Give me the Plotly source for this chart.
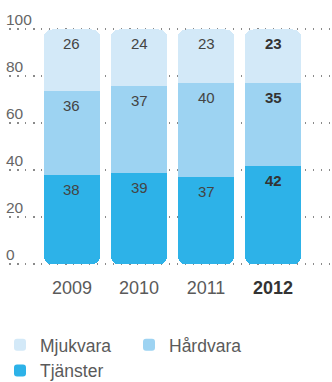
import plotly.graph_objects as go

# Andel av omsättningen per år (procent)
years = ["2009", "2010", "2011", "2012"]
tjanster = [38, 39, 37, 42]
hardvara = [36, 37, 40, 35]
mjukvara = [26, 24, 23, 23]
y_ticks = [0, 20, 40, 60, 80, 100]

col_mjuk = "#d3e9f8"
col_hard = "#9dd3f2"
col_tj = "#2db2e8"
font_family = "Liberation Sans, Arial, sans-serif"
label_col = "#444444"
bold_col = "#333333"
axis_col = "#5a5a5a"

bar_w = 0.84
y_range = [-2, 110]

fig = go.Figure()

# Upper stack on the main axis: a transparent spacer for Tjänster,
# then Hårdvara and Mjukvara; the stack's top end gets the rounded corners.
fig.add_trace(go.Bar(
    x=years, y=tjanster, width=bar_w, showlegend=False, hoverinfo="skip",
    marker=dict(color="rgba(0,0,0,0)", line=dict(width=0)),
))
fig.add_trace(go.Bar(
    x=years, y=hardvara, width=bar_w, name="Hårdvara", legendrank=2,
    marker=dict(color=col_hard, line=dict(width=0)),
    hovertemplate="%{x}: %{y}<extra>Hårdvara</extra>",
))
fig.add_trace(go.Bar(
    x=years, y=mjukvara, width=bar_w, name="Mjukvara", legendrank=1,
    marker=dict(color=col_mjuk, line=dict(width=0)),
    hovertemplate="%{x}: %{y}<extra>Mjukvara</extra>",
))

# Tjänster on a reversed twin axis, so the rounded end of its stack sits at zero
upper = [h + m for h, m in zip(hardvara, mjukvara)]
fig.add_trace(go.Bar(
    x=years, y=upper, width=bar_w, yaxis="y2", showlegend=False, hoverinfo="skip",
    marker=dict(color="rgba(0,0,0,0)", line=dict(width=0)),
))
fig.add_trace(go.Bar(
    x=years, y=tjanster, width=bar_w, yaxis="y2", name="Tjänster", legendrank=3,
    marker=dict(color=col_tj, line=dict(width=0)),
    hovertemplate="%{x}: %{y}<extra>Tjänster</extra>",
))

# Value labels near the top of each segment (category index as x position)
annotations = []
last = len(years) - 1
for i in range(len(years)):
    tops = [
        (tjanster[i], tjanster[i]),
        (tjanster[i] + hardvara[i], hardvara[i]),
        (tjanster[i] + hardvara[i] + mjukvara[i], mjukvara[i]),
    ]
    for top, val in tops:
        txt = f"<b>{val}</b>" if i == last else str(val)
        annotations.append(dict(
            x=i, y=top, xref="x", yref="y", text=txt, showarrow=False,
            yanchor="top", yshift=-4,
            font=dict(family=font_family, size=15,
                      color=bold_col if i == last else label_col),
        ))

tick_text = [
    f"<b><span style='color:{bold_col}'>{y}</span></b>" if i == last else y
    for i, y in enumerate(years)
]

fig.update_layout(
    width=332, height=382,
    margin=dict(l=9, r=2, t=6, b=113),
    paper_bgcolor="white", plot_bgcolor="white",
    barmode="stack",
    barcornerradius=8,
    showlegend=True,
    font=dict(family=font_family, color=axis_col),
    annotations=annotations,
    legend=dict(
        orientation="h", xref="container", yref="container",
        x=-0.021, xanchor="left", y=0.144, yanchor="top",
        font=dict(family=font_family, size=17.5, color=axis_col),
        entrywidth=84, entrywidthmode="pixels",
        traceorder="normal", bgcolor="rgba(0,0,0,0)",
    ),
    xaxis=dict(
        type="category", range=[-0.94, 3.85],
        tickvals=years, ticktext=tick_text,
        tickfont=dict(family=font_family, size=18, color=axis_col),
        ticklabelstandoff=6,
        showgrid=False, zeroline=False, showline=False, ticks="",
        fixedrange=True,
    ),
    yaxis=dict(
        range=y_range, tickvals=y_ticks, ticktext=[str(v) for v in y_ticks],
        ticklabelposition="inside top", ticklabelstandoff=-6, ticklabelshift=1,
        tickfont=dict(family=font_family, size=15.5, color="#666666"),
        showgrid=True, gridcolor="#8a8a8a", gridwidth=1.5, griddash="1.5px,6.5px",
        zeroline=False, showline=False, ticks="",
        fixedrange=True,
    ),
    yaxis2=dict(
        overlaying="y", range=[100 - y_range[0], 100 - y_range[1]],
        visible=False, showgrid=False, zeroline=False, fixedrange=True,
    ),
)

fig.write_html("out.html")
